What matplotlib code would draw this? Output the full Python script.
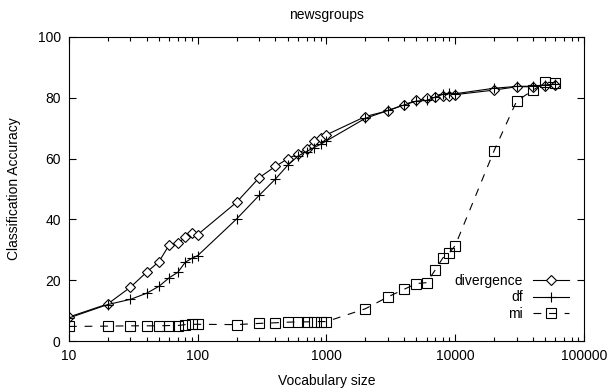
import matplotlib
matplotlib.use("Agg")
import matplotlib.pyplot as plt
from matplotlib.ticker import LogLocator, NullFormatter, FixedLocator

plt.rcParams['font.family'] = ['Liberation Sans', 'DejaVu Sans']

vocab = [10, 20, 30, 40, 50, 60, 70, 80, 90, 100,
         200, 300, 400, 500, 600, 700, 800, 900, 1000,
         2000, 3000, 4000, 5000, 6000, 7000, 8000, 9000, 10000,
         20000, 30000, 40000, 50000, 60000]

divergence = [7.9, 12.2, 17.7, 22.6, 26.1, 31.6, 32.2, 34.1, 35.6, 35.0,
              45.6, 53.7, 57.4, 59.9, 61.6, 63.2, 65.8, 66.9, 67.8,
              73.8, 75.7, 77.7, 79.1, 79.8, 80.3, 80.5, 80.7, 81.0,
              82.5, 83.6, 83.6, 84.0, 84.2]

df = [7.6, 12.0, 13.7, 15.7, 18.0, 20.8, 22.6, 25.9, 27.2, 28.1,
      40.1, 47.9, 53.2, 57.8, 60.8, 62.3, 63.6, 64.7, 65.8,
      73.2, 75.8, 77.6, 78.9, 79.1, 80.2, 81.1, 81.5, 81.3,
      83.1, 83.7, 83.8, 84.2, 84.4]

mi = [4.8, 4.9, 5.0, 5.0, 5.0, 5.1, 5.1, 5.4, 5.5, 5.5,
      5.4, 5.8, 6.0, 6.2, 6.3, 6.3, 6.4, 6.4, 6.4,
      10.6, 14.5, 17.0, 18.9, 19.2, 23.4, 27.3, 29.0, 31.4,
      62.5, 78.9, 82.4, 85.1, 84.9]

fig = plt.figure(figsize=(6.08, 3.92), dpi=100)
ax = fig.add_axes([0.1135, 0.130, 0.847, 0.776])

lw = 0.8
ax.plot(vocab, divergence, color='black', lw=lw, marker='D', ms=5,
        mfc='white', mec='black', mew=lw, label='divergence')
ax.plot(vocab, df, color='black', lw=lw, marker='+', ms=7.5,
        mew=lw, label='df')
ax.plot(vocab, mi, color='black', lw=lw, linestyle=(0, (7, 7)), marker='s',
        ms=6.5, mfc='none', mec='black', mew=lw, label='mi')

ax.set_xscale('log')
ax.set_xlim(10, 100000)
ax.set_ylim(0, 100)
ax.xaxis.set_major_locator(FixedLocator([10, 100, 1000, 10000, 100000]))
ax.set_xticklabels(['10', '100', '1000', '10000', '100000'])
ax.xaxis.set_minor_locator(LogLocator(base=10, subs=range(2, 10)))
ax.xaxis.set_minor_formatter(NullFormatter())
ax.set_yticks([0, 20, 40, 60, 80, 100])

ax.tick_params(axis='both', which='both', direction='in', top=True, right=True,
               labelsize=10, pad=6)
ax.tick_params(which='major', length=5, width=0.8)
ax.tick_params(which='minor', length=3, width=0.8)
for s in ax.spines.values():
    s.set_linewidth(0.8)

ax.set_title('newsgroups', fontsize=10, pad=13)
ax.set_xlabel('Vocabulary size', fontsize=10, labelpad=8)
ax.set_ylabel('Classification Accuracy', fontsize=10, labelpad=12)

ax.legend(loc='lower right', bbox_to_anchor=(0.971, 0.065), frameon=False,
          markerfirst=False, fontsize=10, handlelength=2.6,
          handletextpad=0.7, labelspacing=0.2, borderpad=0, borderaxespad=0)

fig.savefig('out.png', dpi=100)
